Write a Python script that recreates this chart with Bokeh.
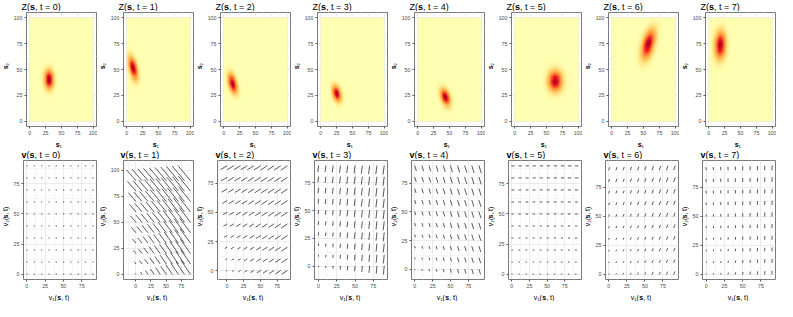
import numpy as np
from math import pi
from bokeh.plotting import figure
from bokeh.layouts import row, column
from bokeh.models import Range1d, FixedTicker, Label, LinearColorMapper
from bokeh.embed import file_html
from bokeh.resources import INLINE

# ---------------- data ----------------
times = [0, 1, 2, 3, 4, 5, 6, 7]

# Z(s,t): blob centre, spread (major/minor) and orientation of major axis (deg)
blob_s1 = [30, 10, 14, 25, 43, 63, 57, 18]
blob_s2 = [40, 51, 36, 26.5, 23, 38.5, 74, 73]
blob_major = [5.8, 7.5, 6.5, 5.5, 6.0, 7.0, 10.0, 8.5]
blob_minor = [4.6, 3.8, 3.8, 3.8, 4.0, 6.3, 5.5, 5.5]
blob_angle = [95, 115, 120, 125, 130, 0, 60, 85]

# v(s,t): flow vectors read at the four corners of the grid
# order: (s1=0,s2=0), (s1=90,s2=0), (s1=0,s2=90), (s1=90,s2=90)
v1_corners = [
    [0.6, 0.8, 0.6, 0.8],
    [-0.3, -15, -15, -20],
    [-0.8, -8, -9, -9],
    [0.0, -1.0, -1.0, -1.5],
    [0.2, 2.0, 2.0, 3.0],
    [0.6, 1.0, 3.5, 4.0],
    [0.3, 1.5, 1.0, 2.0],
    [0.3, 0.3, -0.5, 0.3],
]
v2_corners = [
    [0.0, 0.0, 0.0, 0.0],
    [0.3, 13, 10, 14],
    [-0.3, -3, -3, -3.5],
    [-0.4, -7.0, -5.0, -7.5],
    [-0.4, -4.0, -4.0, -6.0],
    [0.0, 0.0, 0.0, 0.0],
    [0.3, 2.0, 2.0, 3.5],
    [0.3, 2.5, 2.0, 3.5],
]
grid_s = [0, 10, 20, 30, 40, 50, 60, 70, 80, 90]

z_ticks = [0, 25, 50, 75, 100]
z_minor = [12.5, 37.5, 62.5, 87.5]
v_ticks = [0, 25, 50, 75, 100]
v_minor = [-12.5, 12.5, 37.5, 62.5, 87.5, 112.5]

# ---------------- style ----------------
FONT = "Liberation Sans"
COL_W = 97
Z_H, V_H = 148, 153
TITLE_H, XLAB_H = 11, 11
YLAB_W = 10
Z_AX_W = 11
V_AX_W = [11, 13, 11, 11, 11, 11, 11, 11]
BOTTOM_AX = 8
stops = ["#FFFFB2", "#FED976", "#FEB24C", "#FD8D3C", "#FC4E2A", "#E31A1C", "#B10026"]
TITLE_FS, LAB_FS = 9, 7


def hex2rgb(h):
    return np.array([int(h[i:i + 2], 16) for i in (1, 3, 5)], dtype=float)


def make_palette(n=256):
    pos = np.linspace(0, 1, len(stops))
    rgb = np.array([hex2rgb(h) for h in stops])
    out = []
    for t in np.linspace(0, 1, n):
        c = [np.interp(t, pos, rgb[:, k]) for k in range(3)]
        out.append("#%02x%02x%02x" % tuple(int(round(v)) for v in c))
    return out


PAL = make_palette()

W_REG = {' ': 0.278, '(': 0.333, ')': 0.333, ',': 0.278, '=': 0.584, 'Z': 0.611,
         's': 0.5, 't': 0.278, 'v': 0.5, '\u2081': 0.4, '\u2082': 0.4}
for d in "0123456789":
    W_REG[d] = 0.556
W_BOLD = dict(W_REG)
W_BOLD.update({'s': 0.556, 'v': 0.556})


def tw(txt, size, bold):
    tbl = W_BOLD if bold else W_REG
    return sum(tbl.get(c, 0.55) for c in txt) * size


def add_rich(p, x, y, parts, size, rotate=False, center=False):
    total = sum(tw(t, size, b) for t, b in parts)
    cum = -total / 2 if center else 0
    for t, b in parts:
        kw = dict(text=t, text_font=FONT, text_font_size="%gpx" % size,
                  text_font_style="bold" if b else "normal", text_color="#000000",
                  text_baseline="middle", text_align="left")
        if rotate:
            lab = Label(x=x, y=y + cum, angle=pi / 2, **kw)
        else:
            lab = Label(x=x + cum, y=y, **kw)
        p.add_layout(lab)
        cum += tw(t, size, b)


def strip(w, h):
    s = figure(width=w, height=h, x_range=Range1d(0, w), y_range=Range1d(0, h),
               x_axis_type=None, y_axis_type=None, toolbar_location=None,
               output_backend="svg", title=None, min_border_left=0, min_border_right=0,
               min_border_top=0, min_border_bottom=0)
    s.outline_line_color = None
    s.background_fill_color = "white"
    s.border_fill_color = "white"
    return s


def style_axes(p, ticks, minor):
    for ax in (p.xaxis[0], p.yaxis[0]):
        ax.ticker = FixedTicker(ticks=ticks, minor_ticks=minor)
        ax.axis_line_color = None
        ax.major_tick_line_color = "#555555"
        ax.major_tick_out = 2
        ax.major_tick_in = 0
        ax.minor_tick_line_color = None
        ax.major_label_text_font = FONT
        ax.major_label_text_font_size = "5.3px"
        ax.major_label_text_color = "#4D4D4D"
        ax.major_label_standoff = 0
    for g in (p.xgrid[0], p.ygrid[0]):
        g.grid_line_color = "#EBEBEB"
        g.grid_line_width = 1
        g.minor_grid_line_color = "#F5F5F5"
        g.minor_grid_line_width = 1
    p.outline_line_color = "#7A7A7A"
    p.outline_line_width = 1
    p.background_fill_color = "white"
    p.border_fill_color = "white"


def panel_block(main, ax_w, total_h, title_parts, xlab_parts, ylab_parts):
    frame_left = YLAB_W + ax_w
    frame_w = COL_W - frame_left - 1
    mid_h = total_h - TITLE_H - XLAB_H
    ts = strip(COL_W, TITLE_H)
    add_rich(ts, frame_left, TITLE_H / 2, title_parts, TITLE_FS)
    ys = strip(YLAB_W, mid_h)
    frame_mid_from_bottom = BOTTOM_AX + (mid_h - 1 - BOTTOM_AX) / 2
    add_rich(ys, YLAB_W / 2, frame_mid_from_bottom, ylab_parts, LAB_FS, rotate=True, center=True)
    xs_ = strip(COL_W, XLAB_H)
    add_rich(xs_, frame_left + frame_w / 2, XLAB_H / 2, xlab_parts, LAB_FS, center=True)
    return column(ts, row(ys, main), xs_)


# ---------------- Z panels ----------------
gx = np.arange(100) + 0.5
X, Y = np.meshgrid(gx, gx)
z_blocks = []
for i, t in enumerate(times):
    mh = Z_H - TITLE_H - XLAB_H
    p = figure(width=COL_W - YLAB_W, height=mh, output_backend="svg",
               toolbar_location=None, title=None,
               x_range=Range1d(-5, 105), y_range=Range1d(-5, 105),
               min_border_left=Z_AX_W, min_border_right=1, min_border_top=1,
               min_border_bottom=BOTTOM_AX)
    style_axes(p, z_ticks, z_minor)
    th = np.radians(blob_angle[i])
    dx, dy = X - blob_s1[i], Y - blob_s2[i]
    a = dx * np.cos(th) + dy * np.sin(th)
    b = -dx * np.sin(th) + dy * np.cos(th)
    Z = np.exp(-0.5 * ((a / blob_major[i]) ** 2 + (b / blob_minor[i]) ** 2))
    mapper = LinearColorMapper(palette=PAL, low=0, high=float(Z.max()))
    p.image(image=[Z], x=0, y=0, dw=100, dh=100, color_mapper=mapper)
    title = [("Z(", False), ("s", True), (", t = %d)" % t, False)]
    xl = [("s", True), ("\u2081", False)]
    yl = [("s", True), ("\u2082", False)]
    z_blocks.append(panel_block(p, Z_AX_W, Z_H, title, xl, yl))

# ---------------- v panels ----------------
G1, G2 = np.meshgrid(np.array(grid_s, float), np.array(grid_s, float))
gmax = float(grid_s[-1])
U, Wt = G1 / gmax, G2 / gmax
v_blocks = []
for i, t in enumerate(times):
    c1, c2 = v1_corners[i], v2_corners[i]
    v1 = (1 - U) * (1 - Wt) * c1[0] + U * (1 - Wt) * c1[1] + (1 - U) * Wt * c1[2] + U * Wt * c1[3]
    v2 = (1 - U) * (1 - Wt) * c2[0] + U * (1 - Wt) * c2[1] + (1 - U) * Wt * c2[2] + U * Wt * c2[3]
    x0, y0 = G1.ravel(), G2.ravel()
    x1, y1 = (G1 + v1).ravel(), (G2 + v2).ravel()
    xmin, xmax = min(x0.min(), x1.min()), max(x0.max(), x1.max())
    ymin, ymax = min(y0.min(), y1.min()), max(y0.max(), y1.max())
    px, py = 0.05 * (xmax - xmin), 0.05 * (ymax - ymin)
    mh = V_H - TITLE_H - XLAB_H
    p = figure(width=COL_W - YLAB_W, height=mh, output_backend="svg",
               toolbar_location=None, title=None,
               x_range=Range1d(xmin - px, xmax + px), y_range=Range1d(ymin - py, ymax + py),
               min_border_left=V_AX_W[i], min_border_right=1, min_border_top=1,
               min_border_bottom=BOTTOM_AX)
    style_axes(p, v_ticks, v_minor)
    p.segment(x0=x0, y0=y0, x1=x1, y1=y1, line_color="#262626", line_width=0.75,
              line_cap="round")
    title = [("v", True), ("(", False), ("s", True), (", t = %d)" % t, False)]
    xl = [("v\u2081(", False), ("s", True), (", t)", False)]
    yl = [("v\u2082(", False), ("s", True), (", t)", False)]
    v_blocks.append(panel_block(p, V_AX_W[i], V_H, title, xl, yl))

cols = [column(z_blocks[i], v_blocks[i]) for i in range(len(times))]
layout = row(*cols)
open("out.html", "w").write(file_html(layout, INLINE))
